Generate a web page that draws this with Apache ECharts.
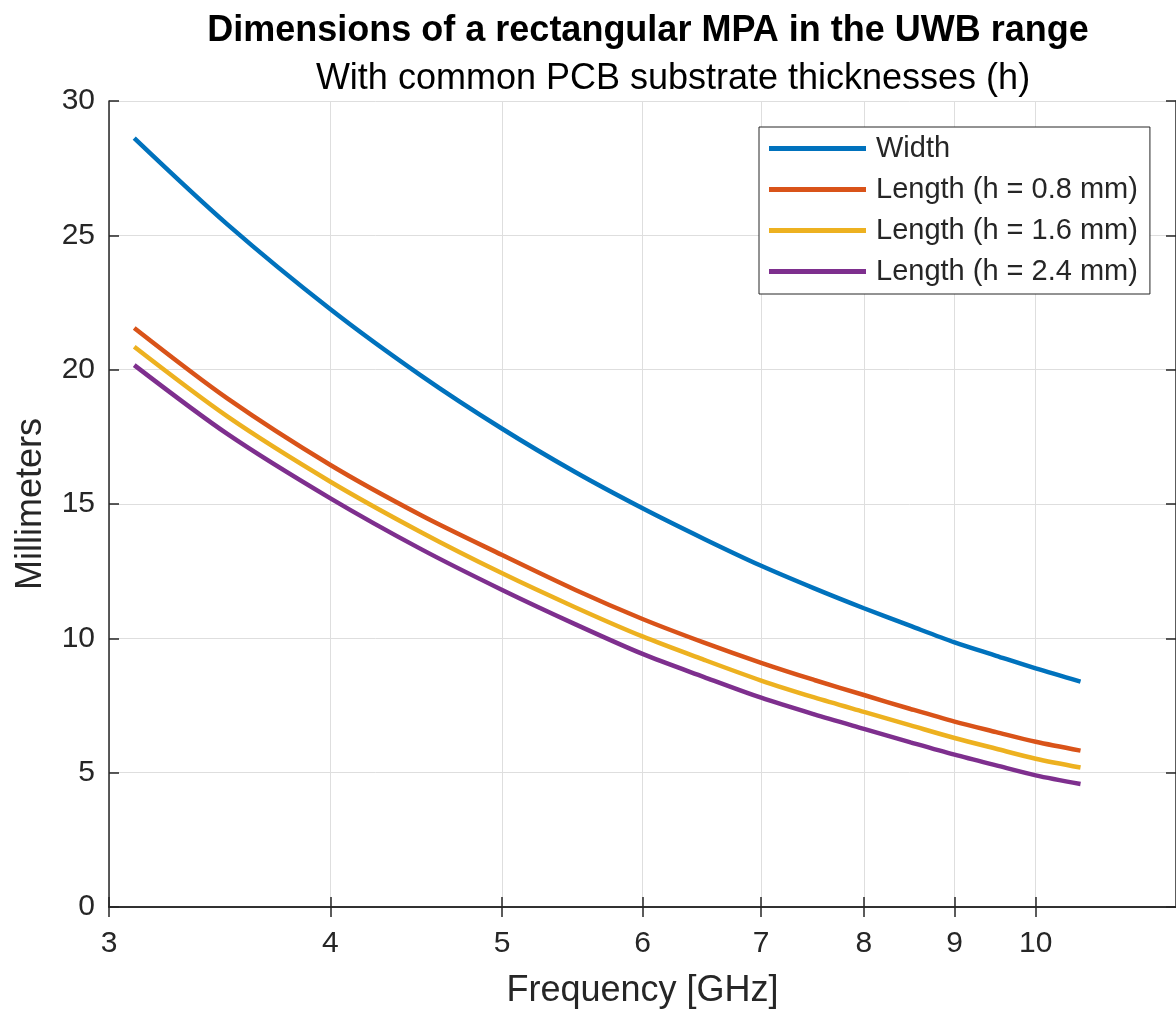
<!DOCTYPE html>
<html>
<head>
<meta charset="utf-8">
<style>
  html, body { margin: 0; padding: 0; background: #fff; }
  #chart { width: 1176px; height: 1012px; }
</style>
<script src="https://cdn.jsdelivr.net/npm/echarts@6/dist/echarts.min.js"></script>
</head>
<body>
<div id="chart"></div>
<script>
// values
const freqs = [3.1, 3.5, 4, 4.5, 5, 5.5, 6, 6.5, 7, 7.5, 8, 8.5, 9, 9.5, 10, 10.6];
const patchWidth = [28.62, 25.40, 22.25, 19.78, 17.80, 16.18, 14.84, 13.70, 12.70, 11.86, 11.12, 10.46, 9.85, 9.35, 8.88, 8.39];
const length08 = [21.55, 18.92, 16.45, 14.58, 13.10, 11.80, 10.72, 9.84, 9.09, 8.45, 7.89, 7.37, 6.90, 6.51, 6.15, 5.82];
const length16 = [20.85, 18.25, 15.83, 13.95, 12.42, 11.15, 10.07, 9.20, 8.43, 7.80, 7.26, 6.76, 6.29, 5.89, 5.52, 5.19];
const length24 = [20.17, 17.60, 15.21, 13.32, 11.80, 10.52, 9.42, 8.56, 7.79, 7.17, 6.63, 6.13, 5.67, 5.27, 4.90, 4.58];

const seriesNames = ['Width', 'Length (h = 0.8 mm)', 'Length (h = 1.6 mm)', 'Length (h = 2.4 mm)'];
const seriesColors = ['#0072BD', '#D95319', '#EDB120', '#7E2F8E'];
const xTicks = [3, 4, 5, 6, 7, 8, 9, 10];

const font = '"Liberation Sans", Arial, Helvetica, sans-serif';
const axisColor = '#262626';
const gridColor = '#dedede';

const chart = echarts.init(document.getElementById('chart'));

const allValues = [patchWidth, length08, length16, length24];

const axisLineStyle = { show: true, lineStyle: { color: axisColor, width: 1.5 } };
const tickStyle = { show: true, inside: true, length: 10, lineStyle: { color: axisColor, width: 1.5 } };

const option = {
  backgroundColor: '#fff',
  animation: false,
  textStyle: { fontFamily: font },
  title: [
    {
      text: 'Dimensions of a rectangular MPA in the UWB range',
      left: 643,
      top: 8,
      textAlign: 'center',
      textStyle: { fontFamily: font, fontSize: 36, fontWeight: 'bold', color: '#000' }
    },
    {
      text: 'With common PCB substrate thicknesses (h)',
      left: 668,
      top: 56,
      textAlign: 'center',
      textStyle: { fontFamily: font, fontSize: 36, fontWeight: 'normal', color: '#000' }
    }
  ],
  legend: {
    orient: 'vertical',
    left: 759,
    top: 127,
    padding: [7, 12, 8, 10],
    itemGap: 12,
    itemWidth: 97,
    itemHeight: 5,
    icon: 'rect',
    backgroundColor: '#fff',
    borderColor: axisColor,
    borderWidth: 1,
    borderRadius: 0,
    textStyle: { fontFamily: font, fontSize: 29, color: axisColor, padding: [0, 0, 0, 5] },
    data: seriesNames
  },
  grid: { left: 109, right: 0, top: 101, bottom: 105, outerBoundsMode: 'none' },
  xAxis: [
    {
      type: 'log',
      min: 3,
      max: 12,
      axisLine: axisLineStyle,
      axisTick: Object.assign({ customValues: xTicks }, tickStyle),
      minorTick: { show: false },
      axisLabel: {
        customValues: xTicks,
        fontFamily: font,
        fontSize: 30,
        color: axisColor,
        margin: 22,
        formatter: (v) => String(Math.round(v))
      },
      splitLine: { show: true, lineStyle: { color: gridColor, width: 1 } },
      name: 'Frequency [GHz]',
      nameLocation: 'middle',
      nameGap: 66,
      nameTextStyle: { fontFamily: font, fontSize: 36, color: axisColor }
    },
    {
      type: 'log',
      position: 'top',
      min: 3,
      max: 12,
      axisLine: axisLineStyle,
      axisTick: Object.assign({ customValues: xTicks }, tickStyle),
      axisLabel: { show: false },
      splitLine: { show: false }
    }
  ],
  yAxis: [
    {
      type: 'value',
      min: 0,
      max: 30,
      interval: 5,
      axisLine: axisLineStyle,
      axisTick: tickStyle,
      axisLabel: { fontFamily: font, fontSize: 30, color: axisColor, margin: 14 },
      splitLine: { show: true, lineStyle: { color: gridColor, width: 1 } },
      name: 'Millimeters',
      nameLocation: 'middle',
      nameGap: 60,
      nameRotate: 90,
      nameTextStyle: { fontFamily: font, fontSize: 36, color: axisColor }
    },
    {
      type: 'value',
      position: 'right',
      min: 0,
      max: 30,
      interval: 5,
      axisLine: axisLineStyle,
      axisTick: tickStyle,
      axisLabel: { show: false },
      splitLine: { show: false }
    }
  ],
  series: seriesNames.map((name, i) => ({
    name: name,
    type: 'line',
    xAxisIndex: 0,
    yAxisIndex: 0,
    data: freqs.map((f, j) => [f, allValues[i][j]]),
    smooth: 0.3,
    symbol: 'none',
    color: seriesColors[i],
    lineStyle: { width: 4.5, color: seriesColors[i] }
  }))
};

chart.setOption(option);
</script>
</body>
</html>
